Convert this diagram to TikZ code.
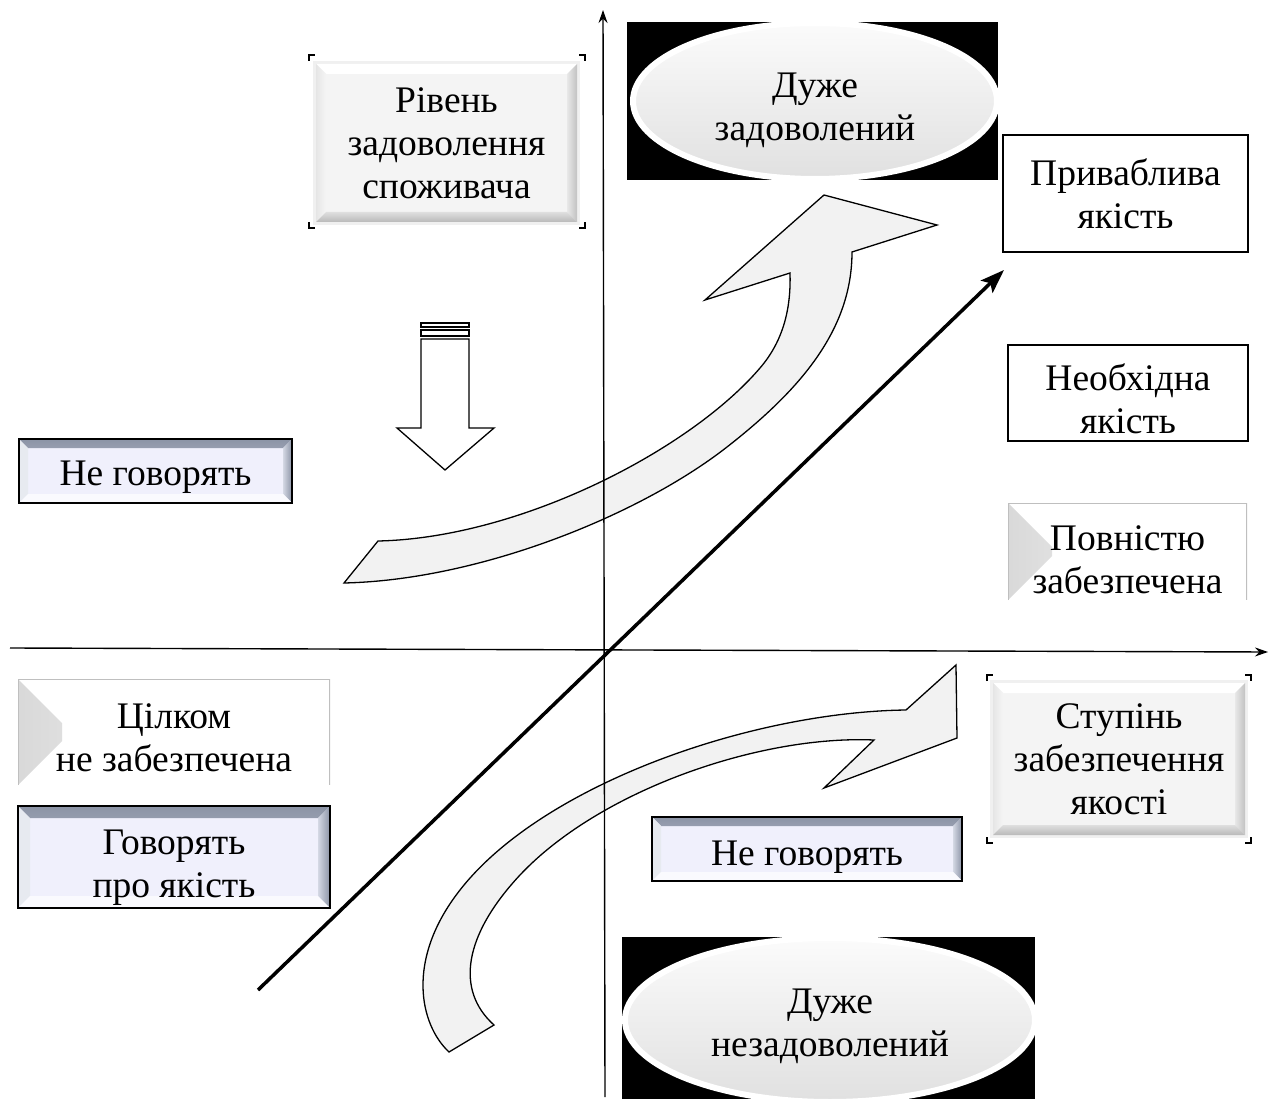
\documentclass[tikz,border=0pt]{standalone}
\usepackage{fontspec}
\setmainfont{Liberation Serif}
\usetikzlibrary{arrows.meta,calc,shapes.geometric}
\definecolor{lav}{RGB}{240,240,252}
\definecolor{bvA}{RGB}{140,148,166}
\definecolor{bvB}{RGB}{212,216,228}
\newcommand\dropt[1]{\rule{0pt}{#1}}
\tikzset{
  txt/.style={align=center, font=\fontsize{37.5}{43}\selectfont, inner sep=0pt},
  bev/.style n args={6}{%
    fill=#6,
    path picture={
      \path[#2] (path picture bounding box.north west) -- (path picture bounding box.north east)
        -- ([xshift=-#1,yshift=-#1]path picture bounding box.north east)
        -- ([xshift=#1,yshift=-#1]path picture bounding box.north west) -- cycle;
      \path[#3] (path picture bounding box.north west) -- ([xshift=#1,yshift=-#1]path picture bounding box.north west)
        -- ([xshift=#1,yshift=#1]path picture bounding box.south west)
        -- (path picture bounding box.south west) -- cycle;
      \path[#4] (path picture bounding box.north east) -- (path picture bounding box.south east)
        -- ([xshift=-#1,yshift=#1]path picture bounding box.south east)
        -- ([xshift=-#1,yshift=-#1]path picture bounding box.north east) -- cycle;
      \path[#5] (path picture bounding box.south west) -- (path picture bounding box.south east)
        -- ([xshift=-#1,yshift=#1]path picture bounding box.south east)
        -- ([xshift=#1,yshift=#1]path picture bounding box.south west) -- cycle;
    }},
  graybox/.style={txt, rectangle, preaction={draw=gray!12, line width=6pt},
    bev={10pt}{{top color=white, bottom color=gray!6}}{{left color=gray!20, right color=gray!8}}{{left color=gray!18, right color=gray!48}}{{top color=gray!25, bottom color=gray!55}}{gray!9}},
  bluebox/.style={txt, rectangle, draw=black, line width=1.5pt,
    bev={#1}{{top color=bvA, bottom color=bvB}}{{fill=bvB!55!white}}{{left color=bvB, right color=bvA}}{{fill=white!70!lav}}{lav}},
  flatbox/.style={txt, rectangle, fill=white,
    path picture={
      \path[left color=gray!30, right color=white] (path picture bounding box.north west)
        -- ([xshift=44pt,yshift=-44pt]path picture bounding box.north west)
        -- ([xshift=44pt,yshift=44pt]path picture bounding box.south west)
        -- (path picture bounding box.south west) -- cycle;
      \draw[gray!50, line width=2pt] (path picture bounding box.south west) -- (path picture bounding box.north west)
        -- (path picture bounding box.north east) -- (path picture bounding box.south east);
    }},
  plainbox/.style={txt, rectangle, draw=black, line width=1.4pt, fill=white},
  ell/.style={txt, ellipse, draw=white, line width=6pt, top color=gray!3, middle color=gray!6, bottom color=gray!24},
  blockarrow/.style={draw=black, line width=1.3pt, fill=gray!10, line join=miter},
  axis/.style={draw=black, line width=1.4pt, -{Stealth[length=13pt,width=9pt]}},
  crn/.style={draw=black, line width=1.5pt},
}
\begin{document}
\begin{tikzpicture}[x=1pt,y=-1pt]
\useasboundingbox (0,0) rectangle (1272,1099);

% curved block arrows
\path[blockarrow] (378,541) .. controls (520,538) and (690,450) .. (760,368)
  .. controls (785,339) and (791,305) .. (790,273)
  -- (705,300) -- (824,195) -- (937,225) -- (852,252)
  .. controls (852,330) and (800,390) .. (727,447)
  .. controls (640,515) and (480,580) .. (344,583) -- cycle;
\path[blockarrow] (449,1052) .. controls (420,1025) and (405,960) .. (460,890)
  .. controls (542,785) and (750,712) .. (906,710)
  -- (956,665) -- (957,738) -- (824,788) -- (874,740)
  .. controls (760,735) and (600,790) .. (520,875)
  .. controls (464,935) and (455,990) .. (494,1025) -- cycle;

% down block arrow
\path[draw=black, line width=1.3pt, fill=white] (421,323) rectangle (469,327);
\path[draw=black, line width=1.3pt, fill=white] (421,330) rectangle (469,336);
\path[draw=black, line width=1.3pt, fill=white] (421,339) -- (469,339) -- (469,428) -- (494,428)
  -- (445,470) -- (397,428) -- (421,428) -- cycle;

% axes
\coordinate (xL) at (10,648);
\coordinate (xR) at (1268,652);
\coordinate (yB) at (605,1097);
\coordinate (yT) at (603,10);
\coordinate (dA) at (258,990);
\coordinate (dB) at (1004,270);
\draw[axis] (yB) -- (yT);
\draw[axis] (xL) -- (xR);
\draw[black, line width=3.5pt, -{Stealth[length=24pt,width=17pt,inset=5pt]}] (dA) -- (dB);

% black backgrounds of the ellipses
\fill[black] (627,22) rectangle (998,180);
\fill[black] (622,937) rectangle (1035,1099);

% nodes
\node[graybox, minimum width=261pt, minimum height=158pt] (lvl) at (446.5,143) {Рівень\\задоволення\\споживача};
\node[ell, minimum width=364pt, minimum height=156pt] (sat) at (815,101) {\dropt{44pt}Дуже\\задоволений};
\node[plainbox, minimum width=245pt, minimum height=117pt] (attr) at (1125.5,193.5) {Приваблива\\якість};
\node[plainbox, minimum width=240pt, minimum height=96pt] (need) at (1128,393) {\dropt{38pt}Необхідна\\якість};
\node[flatbox, minimum width=239pt, minimum height=97pt] (full) at (1127.5,551.5) {\dropt{42pt}Повністю\\забезпечена};
\node[bluebox=9pt, minimum width=273pt, minimum height=64pt] (nsp1) at (155.5,471) {\dropt{36pt}Не говорять};
\node[flatbox, minimum width=312pt, minimum height=106pt] (none) at (174,732) {\dropt{36pt}Цілком\\не забезпечена};
\node[bluebox=12pt, minimum width=312pt, minimum height=102pt] (spk) at (174,857) {\dropt{46pt}Говорять\\про якість};
\node[bluebox=9pt, minimum width=310pt, minimum height=64pt] (nsp2) at (807,849) {\dropt{40pt}Не говорять};
\node[graybox, minimum width=252pt, minimum height=152pt] (deg) at (1119,759) {Ступінь\\забезпечення\\якості};
\node[ell, minimum width=410pt, minimum height=164pt] (dis) at (830,1020) {\dropt{38pt}Дуже\\незадоволений};

% corner marks
\draw[crn] (309,61) |- (315,55);
\draw[crn] (579,55) -| (585,61);
\draw[crn] (309,222) |- (315,228);
\draw[crn] (579,228) -| (585,222);
\draw[crn] (987,681) |- (993,675);
\draw[crn] (1245,675) -| (1251,681);
\draw[crn] (987,837) |- (993,843);
\draw[crn] (1245,843) -| (1251,837);
\end{tikzpicture}
\end{document}
